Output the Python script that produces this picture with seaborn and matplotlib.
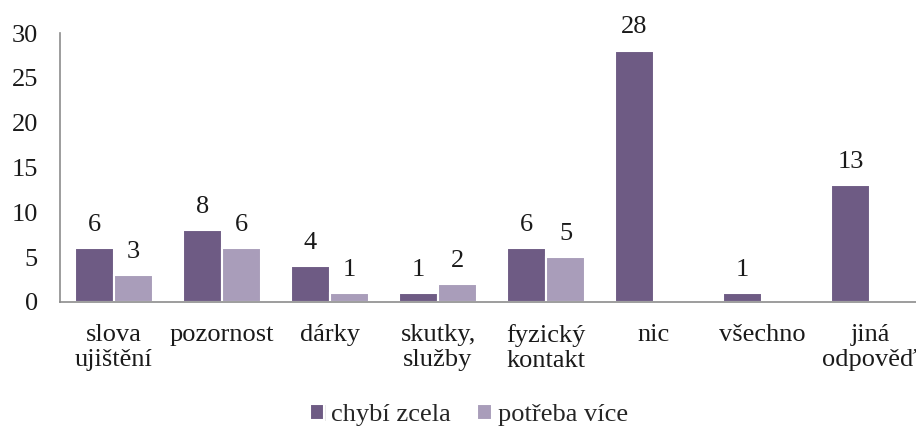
import numpy as np
import pandas as pd
import matplotlib
matplotlib.use("Agg")
import matplotlib.pyplot as plt
import matplotlib.patheffects as pe
import seaborn as sns

categories = ["slova\nujištění", "pozornost", "dárky", "skutky,\nslužby",
              "fyzický\nkontakt", "nic", "všechno", "jiná\nodpověď"]
series_names = ["chybí zcela", "potřeba více"]
chybi_zcela = [6, 8, 4, 1, 6, 28, 1, 13]
potreba_vice = [3, 6, 1, 2, 5, np.nan, np.nan, np.nan]
yticks = [0, 5, 10, 15, 20, 25, 30]

colors = ["#6E548B", "#A898BF"]
FONT = "Liberation Serif"

df = pd.DataFrame({
    "kategorie": categories * 2,
    "serie": [series_names[0]] * len(categories) + [series_names[1]] * len(categories),
    "hodnota": chybi_zcela + potreba_vice,
})

sns.set_style("white")
plt.rcParams["font.family"] = FONT
plt.rcParams["font.serif"] = [FONT, "DejaVu Serif"]

fig = plt.figure(figsize=(9.16, 4.30), dpi=100)
ax = fig.add_axes([60 / 916, 1 - 302 / 430, 864 / 916, (302 - 33) / 430])

sns.barplot(data=df, x="kategorie", y="hodnota", hue="serie",
            order=categories, hue_order=series_names,
            palette=colors, width=0.72, edgecolor="white", linewidth=1.5,
            ax=ax, legend=True)

for p in ax.patches:
    p.set_path_effects([pe.SimplePatchShadow(offset=(1.0, -1.0),
                                             shadow_rgbFace="#b0b0b0", alpha=0.3),
                        pe.Normal()])

for cont in ax.containers:
    vals = cont.datavalues
    labels = ["" if np.isnan(v) else f"{v:g}" for v in vals]
    ax.bar_label(cont, labels=labels, padding=9, fontsize=19, color="#1a1a1a",
                 family=FONT)

ax.set_xlim(-0.5, 7.5)
ax.set_ylim(0, 30)
ax.set_yticks(yticks)
ax.set_yticklabels([str(t) for t in yticks], family=FONT)
ax.set_xticks(range(len(categories)))
ax.set_xticklabels(categories, family=FONT, linespacing=1.15)
ax.set_xlabel("")
ax.set_ylabel("")
ax.tick_params(axis="both", length=0, labelsize=19, colors="#1a1a1a")
ax.tick_params(axis="y", pad=16)
ax.tick_params(axis="x", pad=16)
for s in ["top", "right"]:
    ax.spines[s].set_visible(False)
for s in ["left", "bottom"]:
    ax.spines[s].set_color("#8c8c8c")
    ax.spines[s].set_linewidth(1.2)

handles, labs = ax.get_legend_handles_labels()
ax.legend_.remove()
fig.legend(handles, labs, loc="center", bbox_to_anchor=(0.512, 0.035),
           ncol=2, frameon=False, prop={"family": FONT, "size": 19},
           handlelength=0.55, handleheight=0.55, handletextpad=0.25,
           columnspacing=1.0)

fig.savefig("out.png", dpi=100)
